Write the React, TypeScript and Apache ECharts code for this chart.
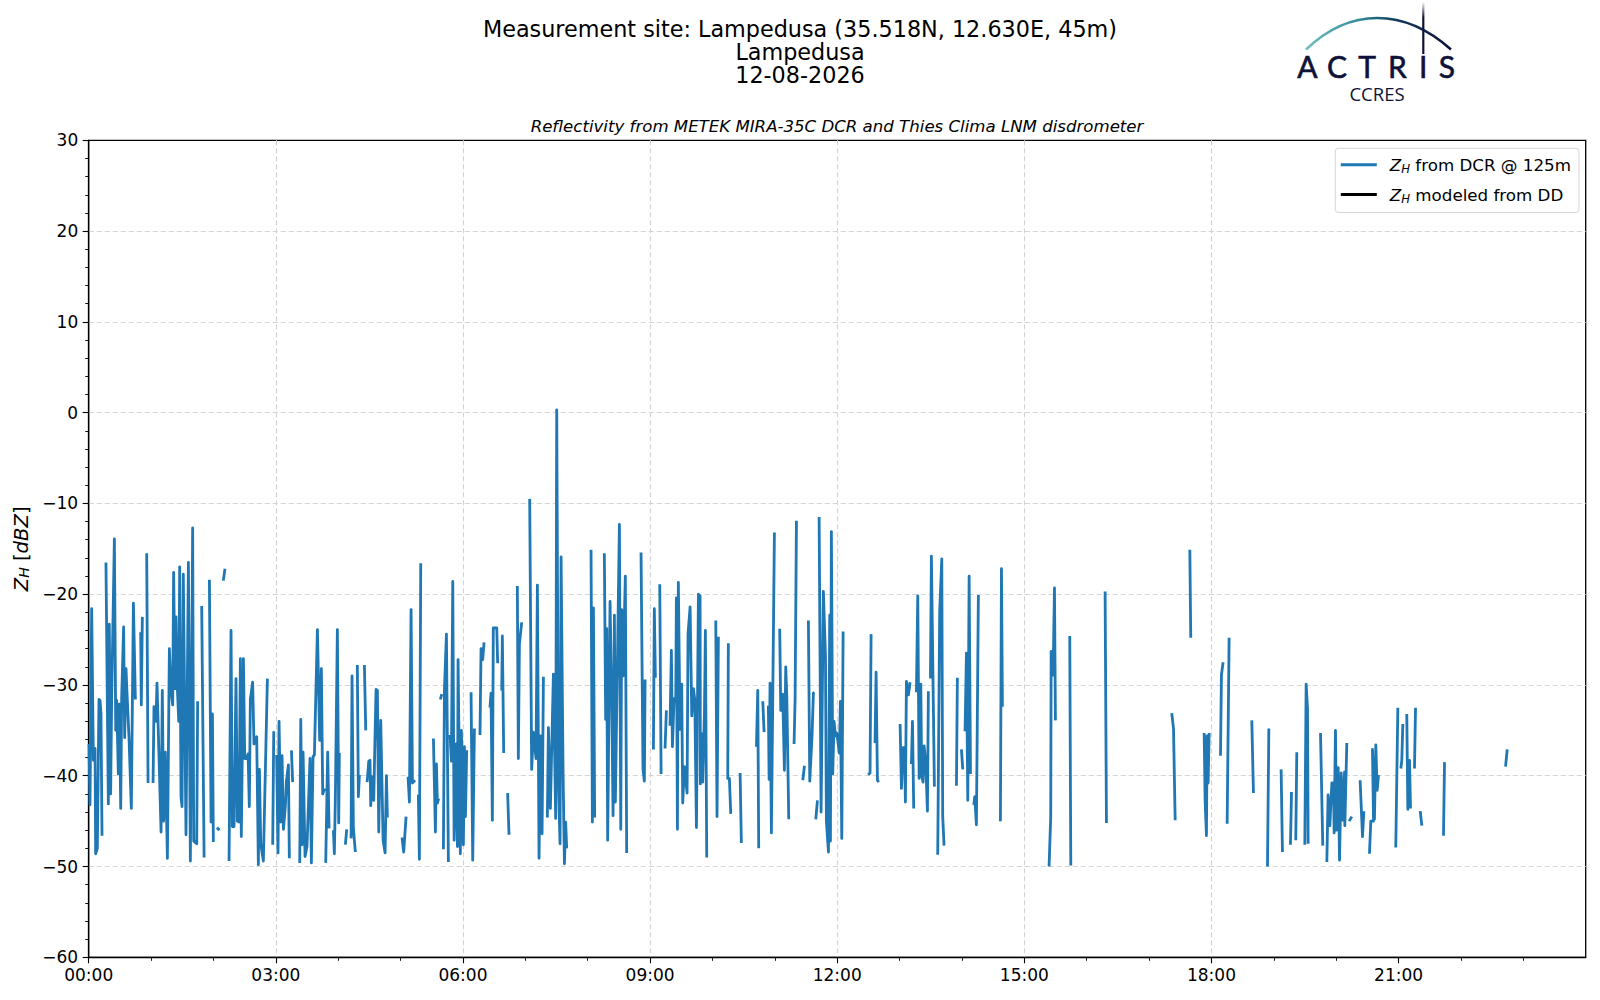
import React, { useEffect, useRef } from "react";
import * as echarts from "echarts";

type Reading = [number, number] | null; // [minutes after midnight, dBZ]; null = gap

const samples00to01: Reading[] = [
  [0.3,-36.5],[1.25,-43.2],[2.85,-21.6],[4.5,-38.3],[6.1,-37.0],[6.7,-48.6],[8.3,-48.0],[9.9,-31.6],[10.9,-31.7],[11.8,-33.1],[12.8,-46.6],null,
  [16.6,-16.5],[18.9,-43.1],[19.8,-23.3],[21.1,-42.0],[22.1,-31.3],[24.7,-13.9],[26.0,-35.0],[26.9,-31.7],[28.5,-39.8],[29.5,-32.1],[30.8,-43.6],[31.7,-31.5],[33.6,-23.6],[34.6,-35.8],[35.9,-28.2],[36.8,-30.8],[38.8,-35.9],[41.0,-43.6],[43.0,-21.0],[44.9,-31.6],null,
  [50.0,-24.2],[50.6,-32.2],[51.6,-22.5],null,
  [55.8,-15.5],[57.1,-40.8],null,
];
const samples01to02: Reading[] = [
  [61.9,-40.8],[62.8,-32.4],[64.7,-34.0],[65.7,-29.8],[69.6,-46.2],[70.8,-30.6],[72.1,-45.0],[73.7,-37.4],[75.7,-49.1],[77.6,-26.0],[79.2,-30.6],[80.8,-32.2],[81.7,-17.6],[83.0,-30.4],[84.0,-22.5],[85.3,-30.4],[86.6,-34.0],[87.5,-17.0],[88.8,-42.3],[89.8,-43.4],[91.0,-17.8],[93.6,-46.5],[95.9,-16.5],[97.8,-49.4],[100.0,-12.7],[101.0,-47.2],[103.9,-47.5],[104.8,-31.8],null,
  [108.7,-21.3],[111.0,-49.0],null,
  [116.1,-18.4],[117.7,-45.1],[119.0,-33.2],[119.9,-47.3],null,
];
const samples02to03: Reading[] = [
  [123.4,-45.7],[125.7,-46.0],null,
  [129.5,-18.5],[131.1,-17.2],null,
  [135.0,-49.4],[136.9,-24.0],[138.2,-45.6],[139.8,-45.6],[141.7,-29.3],[143.0,-45.0],[144.6,-45.1],[145.9,-27.1],[146.8,-46.7],[148.8,-27.1],[150.1,-38.1],[152.0,-38.1],[153.3,-37.6],[154.5,-43.4],[155.5,-31.6],[157.7,-29.7],[159.0,-36.5],[161.6,-35.7],[163.2,-49.8],[164.2,-39.3],[165.5,-47.5],[168.0,-49.4],[171.9,-29.3],null,
  [177.0,-47.6],[178.0,-35.1],null,
];
const samples03to05: Reading[] = [
  [180.8,-37.7],[182.1,-48.5],[183.1,-34.0],[184.7,-45.1],[186.0,-37.8],[187.3,-45.9],[189.2,-43.3],[190.1,-40.7],[192.1,-38.8],[193.0,-49.1],null,
  [195.0,-37.2],[196.2,-40.7],null,
  [203.0,-49.6],[204.0,-33.8],[205.2,-47.6],[206.2,-37.4],[208.1,-48.9],[210.0,-47.8],[212.9,-38.1],[214.2,-49.6],[215.8,-37.9],[217.1,-37.7],[220.0,-23.9],[222.2,-36.1],[223.8,-28.2],[225.1,-42.0],[227.0,-41.4],null,
  [228.0,-49.6],[229.9,-37.4],[231.2,-45.8],null,
  [235.4,-46.0],[236.3,-48.6],[237.3,-42.3],[239.2,-23.9],[240.5,-45.2],[241.1,-37.5],null,
  [246.9,-47.6],[248.2,-45.9],null,
  [252.4,-46.9],[253.3,-29.0],[254.6,-45.8],[256.5,-48.4],null,
  [258.4,-27.8],[259.4,-42.3],[260.4,-39.9],null,
  [265.2,-27.8],[266.5,-35.0],null,
  [267.8,-40.7],[269.4,-38.4],[270.6,-38.3],[271.3,-43.3],[272.2,-40.1],[274.2,-42.7],[275.1,-37.4],[276.4,-30.5],[277.7,-30.6],[279.0,-46.2],[280.9,-33.9],[283.2,-47.1],[285.1,-48.5],[286.4,-40.0],[287.3,-44.6],null,
];
const samples05to06: Reading[] = [
  [301.4,-46.8],[303.0,-48.4],[305.3,-44.5],null,
  [307.2,-40.1],[308.5,-42.9],[310.1,-21.7],[311.4,-40.8],[313.9,-40.5],null,
  [317.1,-42.1],[318.1,-49.2],[319.4,-16.6],null,
  [331.6,-35.9],[333.5,-46.2],[334.5,-38.7],[335.4,-43.0],[336.7,-42.5],null,
  [338.3,-31.6],[339.6,-31.0],null,
  [341.2,-48.1],[342.2,-30.6],[344.1,-24.4],[346.0,-49.5],null,
  [347.6,-35.5],[348.9,-38.4],[350.2,-18.6],[351.5,-47.1],[353.4,-36.5],[354.7,-47.8],[355.3,-27.2],[357.5,-48.6],[358.5,-35.0],[360.4,-47.6],[361.4,-36.8],[362.4,-44.5],[363.6,-37.2],null,
];
const samples06to08: Reading[] = [
  [367.8,-30.8],[369.4,-49.3],[371.0,-34.8],null,
  [376.4,-35.5],[377.4,-26.0],[379.0,-27.2],[380.3,-25.3],null,
  [386.0,-32.5],[387.0,-30.9],[388.3,-44.9],[389.2,-23.7],[392.5,-23.7],[393.4,-27.6],null,
  [397.3,-30.6],[397.9,-24.6],[399.2,-37.5],null,
  [403.0,-41.9],[404.3,-46.5],null,
  [412.3,-19.1],[413.3,-38.1],[414.3,-25.5],[416.5,-23.1],null,
  [424.2,-9.5],[426.1,-39.3],[427.7,-35.2],[430.3,-38.1],[431.6,-19.0],[433.2,-49.1],[434.5,-35.6],[436.1,-46.4],[437.4,-29.1],null,
  [441.2,-44.6],[442.2,-34.7],[444.1,-43.6],[447.0,-28.8],[449.2,-44.7],[450.2,0.3],[451.8,-40.7],[453.4,-47.5],[454.4,-15.9],[456.3,-39.6],[457.6,-49.7],[458.8,-45.1],[459.8,-48.0],null,
];
const samples08to10: Reading[] = [
  [483.2,-15.1],[484.5,-45.1],[485.5,-21.5],[486.7,-44.6],null,
  [496.0,-15.5],[497.3,-33.8],[498.3,-23.8],[499.2,-47.1],[501.5,-20.8],[503.1,-31.4],[504.4,-44.4],[505.7,-22.3],[506.6,-42.9],[508.9,-25.2],[510.5,-12.3],[511.8,-45.9],[512.7,-21.7],[514.0,-29.0],[516.2,-18.0],[517.5,-48.5],null,
  [531.3,-15.4],[533.2,-39.3],[534.5,-40.6],[535.2,-29.4],null,
  [543.2,-37.1],[544.1,-21.6],[545.1,-29.2],null,
  [549.3,-18.9],[550.6,-39.8],null,
  [554.4,-37.0],[555.7,-32.8],null,
  [559.2,-34.5],[560.5,-26.2],[561.5,-36.8],[563.1,-31.5],[564.7,-31.8],[565.3,-20.4],[566.3,-45.9],[567.2,-18.7],[568.8,-34.9],[570.4,-29.9],[571.4,-43.0],[573.0,-39.0],[575.6,-41.9],[576.5,-24.4],[578.5,-21.4],[580.1,-33.4],[581.7,-30.4],[583.0,-31.6],[584.6,-45.7],[586.5,-20.0],[588.1,-20.2],[588.4,-40.9],[590.0,-35.4],[590.6,-40.7],[592.3,-33.1],[593.2,-24.0],[594.5,-49.0],null,
];
const samples10to12: Reading[] = [
  [603.2,-22.9],[604.4,-44.5],[605.7,-24.7],null,
  [615.3,-25.4],[614.7,-40.3],[616.3,-40.3],[617.6,-44.2],null,
  [626.6,-39.7],[627.8,-47.4],null,
  [642.3,-36.8],[643.6,-30.6],[644.5,-48.0],null,
  [648.4,-31.8],[649.7,-35.2],null,
  [653.8,-32.3],[654.5,-40.4],[655.4,-29.8],[656.7,-46.3],[659.6,-13.2],null,
  [664.7,-23.8],[665.7,-32.8],[667.6,-31.0],[669.2,-39.4],[670.5,-28.0],[671.5,-31.2],[673.4,-44.8],null,
  [678.5,-36.5],[679.5,-31.6],[680.8,-11.9],null,
  [686.9,-40.5],[688.5,-38.9],null,
  [692.3,-22.9],[693.6,-40.6],[695.8,-35.6],[697.1,-30.9],[698.1,-30.8],null,
  [699.4,-44.8],[701.0,-42.7],null,
  [702.6,-11.5],[704.5,-44.0],[706.7,-19.7],[708.7,-26.8],[709.6,-45.0],[711.6,-48.4],[712.8,-22.3],[713.5,-47.2],[714.4,-13.1],[715.7,-39.8],[717.0,-34.0],[718.3,-35.6],[719.6,-35.3],[722.1,-37.5],[723.1,-31.8],[724.4,-46.9],[725.7,-24.1],null,
];
const samples12to15: Reading[] = [
  [749.7,-39.9],[751.6,-39.7],[752.6,-24.4],null,
  [756.4,-36.4],[757.4,-28.6],[758.7,-40.5],[760.0,-40.7],null,
  [780.5,-34.3],[781.8,-41.4],[783.4,-36.9],[784.7,-36.9],[785.6,-42.9],[786.6,-29.6],[788.5,-31.1],[790.1,-29.7],null,
  [791.4,-38.7],[792.4,-34.0],[793.6,-43.6],null,
  [796.2,-30.8],[797.5,-20.2],[798.8,-40.3],[800.4,-29.9],[801.3,-40.0],[802.6,-40.7],[803.6,-36.7],[805.2,-38.6],[806.8,-43.9],[807.7,-30.7],null,
  [809.7,-29.3],[810.6,-15.8],[813.5,-41.2],null,
  [816.7,-48.7],[818.6,-21.9],[820.6,-16.1],[821.5,-44.5],[822.8,-47.7],null,
  [834.7,-41.1],[835.6,-29.2],null,
  [839.5,-37.1],[840.8,-39.3],null,
  [843.0,-35.1],[844.3,-26.5],[845.6,-42.7],[846.9,-18.0],[848.2,-39.8],null,
  [851.4,-43.2],[852.3,-42.3],[853.9,-45.4],[855.8,-20.1],null,
  [877.0,-45.0],[878.0,-17.2],[878.9,-32.4],null,
];
const samples15to18: Reading[] = [
  [923.8,-50.0],[925.4,-44.5],[925.8,-26.3],[927.7,-28.9],[929.0,-19.3],[929.9,-33.9],null,
  [943.7,-24.6],[944.7,-49.9],null,
  [977.7,-19.7],[979.0,-45.2],null,
  [1041.8,-33.1],[1043.5,-34.8],[1045.1,-44.9],null,
  [1059.2,-15.1],[1060.1,-24.8],null,
  [1073.0,-35.3],[1073.9,-42.7],[1075.2,-46.6],[1075.8,-35.6],[1076.8,-40.8],[1077.8,-35.3],null,
];
const samples18to20: Reading[] = [
  [1088.7,-37.8],[1089.6,-28.9],[1091.2,-27.5],null,
  [1095.1,-45.3],[1097.0,-24.8],null,
  [1118.8,-33.9],[1120.4,-41.9],null,
  [1133.9,-50.0],[1135.2,-34.8],null,
  [1147.0,-39.3],[1148.3,-48.4],null,
  [1156.0,-47.6],[1157.0,-41.8],null,
  [1161.1,-47.1],[1162.1,-37.4],null,
  [1169.8,-47.6],[1171.1,-29.9],[1172.4,-32.6],[1173.0,-47.5],null,
  [1184.9,-35.3],[1187.1,-47.7],null,
  [1191.0,-49.5],[1192.2,-42.1],[1193.9,-45.5],[1195.8,-40.8],[1197.4,-40.8],[1198.0,-46.3],
];
const samples20to23: Reading[] = [
  [1199.3,-35.0],[1200.3,-46.0],[1201.9,-39.1],[1203.2,-49.3],[1204.8,-39.7],[1206.4,-44.9],[1208.0,-39.6],[1208.3,-45.5],[1210.2,-36.4],null,
  [1212.5,-45.0],[1215.0,-44.5],null,
  [1223.0,-40.5],[1225.3,-46.7],[1226.6,-43.9],null,
  [1232.0,-48.6],[1233.3,-45.0],[1235.9,-45.0],[1234.9,-37.1],[1236.8,-44.8],[1238.1,-36.6],[1239.4,-41.6],[1240.7,-39.9],null,
  [1257.3,-47.9],[1259.3,-32.5],null,
  [1262.2,-39.2],[1263.1,-38.3],[1264.1,-34.3],null,
  [1267.9,-33.2],[1268.9,-43.7],[1270.5,-38.3],[1271.5,-43.6],null,
  [1275.3,-39.2],[1276.3,-32.5],null,
  [1280.8,-43.9],[1282.4,-45.5],null,
  [1303.2,-46.6],[1304.2,-38.5],null,
  [1362.9,-39.0],[1364.5,-37.1],
];
const zhFromDcr: Reading[] = [
  ...samples00to01, ...samples01to02, ...samples02to03, ...samples03to05, ...samples05to06,
  ...samples06to08, ...samples08to10, ...samples10to12, ...samples12to15, ...samples15to18,
  ...samples18to20, ...samples20to23,
];
const zhModeled: Reading[] = [];

const xTickMinutes = [0, 180, 360, 540, 720, 900, 1080, 1260];
const seriesDcr = "ZH from DCR @ 125m";
const seriesDd = "ZH modeled from DD";
const FONT = "DejaVu Sans";
const NAVY = "#0f1238";

const clock = (m: number) =>
  `${String(Math.floor(m / 60)).padStart(2, "0")}:${String(m % 60).padStart(2, "0")}`;

const logoLetters: [string, number][] = [
  ["A", 1307.5], ["C", 1337], ["T", 1367], ["R", 1397.5], ["I", 1423.3], ["S", 1447],
];

export default function App() {
  const ref = useRef<HTMLDivElement>(null);
  useEffect(() => {
    const chart = echarts.init(ref.current!, undefined, { renderer: "svg", width: 1600, height: 1000 });
    chart.setOption({
      animation: false,
      backgroundColor: "#fff",
      textStyle: { fontFamily: FONT },
      title: [
        {
          text: "Measurement site: Lampedusa (35.518N, 12.630E, 45m)\nLampedusa\n12-08-2026",
          left: 800, top: 17, textAlign: "center", padding: 0,
          textStyle: { fontFamily: FONT, fontSize: 22.3, fontWeight: "normal", color: "#000", lineHeight: 23 },
        },
        {
          text: "Reflectivity from METEK MIRA-35C DCR and Thies Clima LNM disdrometer",
          left: 837, top: 118, textAlign: "center", padding: 0,
          textStyle: { fontFamily: FONT, fontSize: 16.6, fontStyle: "italic", fontWeight: "normal", color: "#000" },
        },
      ],
      grid: {
        left: 88.7, right: 14.3, top: 140.3, height: 817, show: true,
        borderColor: "#000", borderWidth: 1.3, containLabel: false,
      },
      legend: {
        orient: "vertical", left: 1335.3, top: 148.3, padding: [8, 8, 8, 5.5],
        itemWidth: 36, itemHeight: 14, itemGap: 11.2,
        backgroundColor: "rgba(255,255,255,0.8)", borderColor: "#d5d5d5", borderWidth: 1, borderRadius: 3,
        data: [{ name: seriesDcr, icon: "path://M0,0H36V3H0Z" }, { name: seriesDd, icon: "path://M0,0H36V3H0Z" }],
        formatter: (name: string) => `{i|Z}{s|H}{t|${name.slice(2)}}`,
        textStyle: {
          rich: {
            i: { fontFamily: FONT, fontStyle: "italic", fontSize: 16.7, color: "#000", height: 20, padding: [0, 0, 0, 8] },
            s: { fontFamily: FONT, fontStyle: "italic", fontSize: 11.7, color: "#000", verticalAlign: "bottom", lineHeight: 14, padding: [6, 0, 0, 0] },
            t: { fontFamily: FONT, fontSize: 16.7, color: "#000", height: 20 },
          },
        },
      },
      xAxis: {
        type: "value", min: 0, max: 1440, interval: 180,
        axisLine: { show: true, onZero: false, lineStyle: { color: "#000", width: 1.3 } },
        axisTick: { show: true, length: 6, customValues: xTickMinutes, lineStyle: { color: "#000", width: 1.1 } },
        minorTick: { show: true, splitNumber: 3, length: 3.5, lineStyle: { color: "#000", width: 0.9 } },
        axisLabel: {
          customValues: xTickMinutes, margin: 9, fontFamily: FONT, fontSize: 17, color: "#000",
          formatter: (v: number) => clock(v),
        },
        splitLine: { show: true, showMinLine: false, showMaxLine: false, lineStyle: { color: "#d3d3d3", width: 1.1, type: [5, 3] } },
      },
      yAxis: {
        type: "value", min: -60, max: 30, interval: 10,
        name: "{i|Z}{s|H}{t| [}{i|dBZ}{t|]}",
        nameLocation: "middle", nameGap: 51, nameRotate: 90,
        nameTextStyle: {
          rich: {
            i: { fontFamily: FONT, fontStyle: "italic", fontSize: 19.7, color: "#000" },
            s: { fontFamily: FONT, fontStyle: "italic", fontSize: 14, color: "#000", verticalAlign: "bottom", padding: [6, 0, 0, 0] },
            t: { fontFamily: FONT, fontSize: 19.7, color: "#000" },
          },
        },
        axisLine: { show: true, onZero: false, lineStyle: { color: "#000", width: 1.3 } },
        axisTick: { show: true, length: 6, lineStyle: { color: "#000", width: 1.1 } },
        minorTick: { show: true, splitNumber: 5, length: 3.5, lineStyle: { color: "#000", width: 0.9 } },
        axisLabel: {
          margin: 10.5, fontFamily: FONT, fontSize: 17, color: "#000",
          formatter: (v: number) => String(v).replace("-", "\u2212"),
        },
        splitLine: { show: true, showMinLine: false, showMaxLine: false, lineStyle: { color: "#d3d3d3", width: 1.1, type: [5, 3] } },
      },
      series: [
        {
          name: seriesDcr, type: "line", showSymbol: false, symbol: "none", connectNulls: false,
          data: zhFromDcr.map((p) => (p ? p : [null, null])),
          lineStyle: { color: "#1f77b4", width: 2.8, join: "round", cap: "butt" },
          itemStyle: { color: "#1f77b4" }, z: 3,
        },
        {
          name: seriesDd, type: "line", showSymbol: false, symbol: "none",
          data: zhModeled,
          lineStyle: { color: "#000", width: 2.8 }, itemStyle: { color: "#000" }, z: 4,
        },
      ],
      graphic: [
        {
          type: "bezierCurve", silent: true,
          shape: { x1: 1306, y1: 49.5, cpx1: 1350, cpy1: 7.5, cpx2: 1404, cpy2: 7.5, x2: 1451, y2: 49.5 },
          style: {
            fill: "none", lineWidth: 2.6,
            stroke: new echarts.graphic.LinearGradient(1306, 0, 1451, 0, [
              { offset: 0, color: "#74bfc0" },
              { offset: 0.38, color: "#2f8a9a" },
              { offset: 0.62, color: "#123a5a" },
              { offset: 1, color: NAVY },
            ], true),
          },
        },
        {
          type: "rect", silent: true,
          shape: { x: 1422.2, y: 2, width: 2.2, height: 52 },
          style: {
            fill: new echarts.graphic.LinearGradient(0, 0, 0, 1, [
              { offset: 0, color: "rgba(15,18,56,0)" },
              { offset: 0.3, color: NAVY },
              { offset: 1, color: NAVY },
            ]),
          },
        },
        ...logoLetters.map(([ch, x]) => ({
          type: "text", silent: true, x, y: 80.5,
          style: {
            text: ch, fontFamily: "Lato", fontSize: 30, fontWeight: "normal", fill: NAVY,
            stroke: NAVY, lineWidth: 0.6, textAlign: "center", verticalAlign: "bottom",
          },
        })),
        {
          type: "text", silent: true, x: 1377, y: 102.5,
          style: {
            text: "CCRES", fontFamily: "Open Sans", fontSize: 18.5, fill: NAVY,
            textAlign: "center", verticalAlign: "bottom",
          },
        },
      ],
    });
    return () => chart.dispose();
  }, []);
  return (
    <div
      ref={ref}
      style={{ position: "absolute", left: 0, top: 0, width: 1600, height: 1000, background: "#fff" }}
    />
  );
}
